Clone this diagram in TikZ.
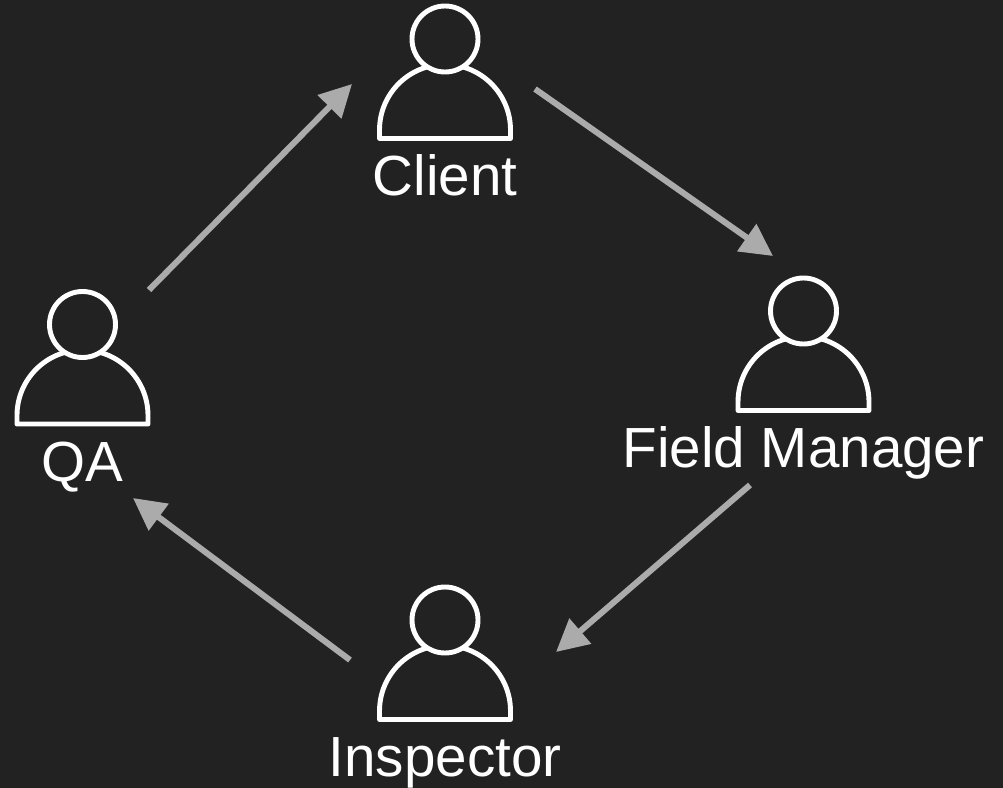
\documentclass[tikz,border=0pt]{standalone}
\usepackage{fontspec}
\setmainfont{Liberation Sans}
\usetikzlibrary{arrows.meta}
\definecolor{bgdark}{HTML}{222222}
\definecolor{flowgray}{HTML}{ABABAB}
\tikzset{
	flow/.style={line width=1.6mm, color=flowgray, -{Triangle[length=8.5mm,width=8.5mm]}},
	actorlabel/.style={text=white, font=\fontsize{42.6}{42.6}\selectfont, inner sep=0pt, anchor=base},
	actorline/.style={line width=1.3mm, color=white, line join=round}
}
\def\actor(#1,#2){
	\draw[actorline] ({#1-65.5},{#2+99.5}) -- ({#1-65.5},{#2+91}) arc (180:360:65.5) -- ({#1+65.5},{#2+99.5}) -- cycle;
	\draw[actorline, fill=bgdark] (#1,#2) circle (33);
}

\begin{document}
\begin{tikzpicture}[x=0.2646mm, y=-0.2646mm]
		%%%%% START %%%%%

		\fill[bgdark] (0, 0) rectangle (1003, 788);
		\useasboundingbox (0, 0) rectangle (1003, 788);

		\actor(445,39)
		\node[actorlabel] (client) at (445, 195) {Client};

		\actor(803.5,311)
		\node[actorlabel] (fieldmanager) at (803.5, 467) {Field Manager};

		\actor(445,620)
		\node[actorlabel] (inspector) at (445, 776) {Inspector};

		\actor(82.5,324.5)
		\node[actorlabel] (qa) at (82.5, 481) {QA};

		\coordinate (clientout) at (535, 89);
		\coordinate (managerin) at (773, 256);
		\coordinate (managerout) at (750, 485);
		\coordinate (inspectorin) at (556, 652);
		\coordinate (inspectorout) at (350, 660);
		\coordinate (qain) at (133, 498);
		\coordinate (qaout) at (149, 290);
		\coordinate (clientin) at (352, 84);

		\draw[flow] (clientout) -- (managerin);
		\draw[flow] (managerout) -- (inspectorin);
		\draw[flow] (inspectorout) -- (qain);
		\draw[flow] (qaout) -- (clientin);

		%%%%% END %%%%%
	\end{tikzpicture}
\end{document}
